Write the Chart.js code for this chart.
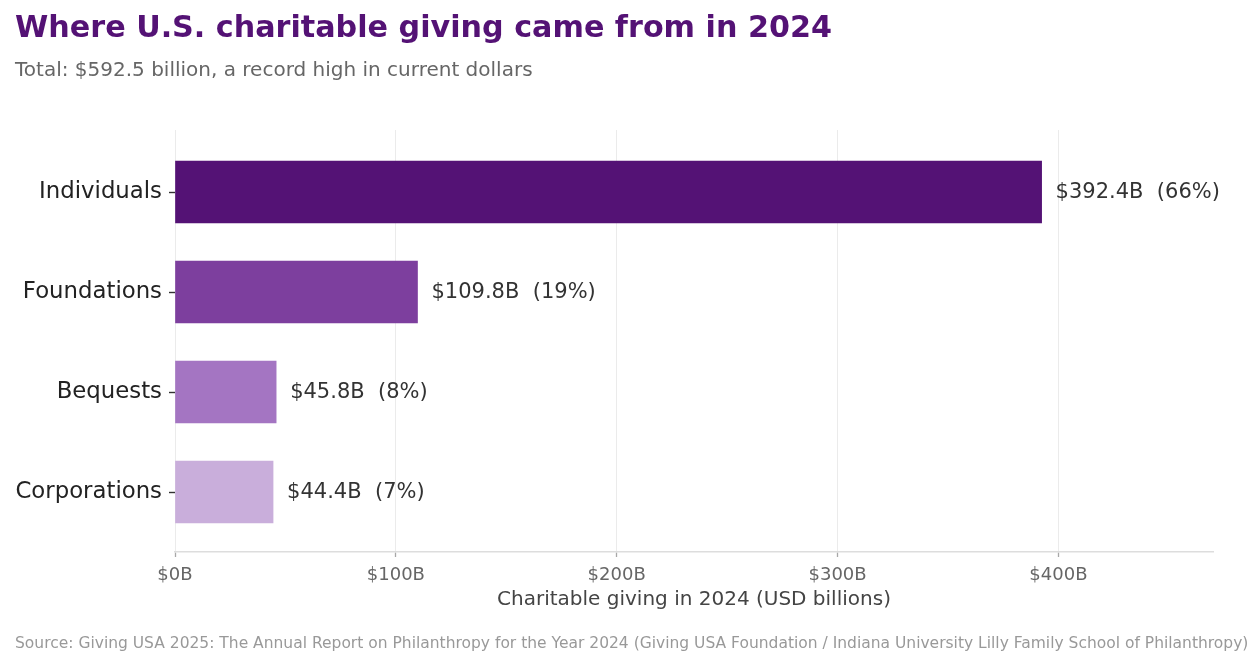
<!DOCTYPE html>
<html>
<head>
<meta charset="utf-8">
<title>Where U.S. charitable giving came from in 2024</title>
<script src="https://cdn.jsdelivr.net/npm/chart.js@4.4.1/dist/chart.umd.min.js"></script>
<style>
  body { margin: 0; background: #fff; }
  #wrap { width: 1255px; height: 661px; position: relative; }
</style>
</head>
<body>
<div id="wrap"><canvas id="giving-chart"></canvas></div>
<script>
// giving by source, 2024 (USD billions)
var categories = ["Individuals", "Foundations", "Bequests", "Corporations"];
var amounts = [392.4, 109.8, 45.8, 44.4];
var shares = [66, 19, 8, 7];
var xTicks = [0, 100, 200, 300, 400];

var barColors = ["#541275", "#7d3f9e", "#a475c2", "#c9aedb"];
var FONT = "'DejaVu Sans', 'Liberation Sans', sans-serif";

Chart.defaults.font.family = FONT;

// title, subtitle, source line and the value labels next to the bars
var textPlugin = {
  id: "chartText",
  afterDatasetsDraw: function(chart) {
    var ctx = chart.ctx;
    var meta = chart.getDatasetMeta(0);
    ctx.save();
    ctx.font = "21px " + FONT;
    ctx.fillStyle = "#333333";
    ctx.textAlign = "left";
    ctx.textBaseline = "middle";
    meta.data.forEach(function(bar, i) {
      var label = "$" + amounts[i].toFixed(1) + "B  (" + shares[i] + "%)";
      ctx.fillText(label, bar.x + 14, bar.y + 1);
    });
    ctx.restore();
  },
  afterDraw: function(chart) {
    var ctx = chart.ctx;
    ctx.save();
    ctx.textAlign = "left";
    ctx.textBaseline = "alphabetic";
    ctx.font = "bold 30.2px " + FONT;
    ctx.fillStyle = "#541275";
    ctx.fillText("Where U.S. charitable giving came from in 2024", 15, 37);
    ctx.font = "20px " + FONT;
    ctx.fillStyle = "#666666";
    ctx.fillText("Total: $592.5 billion, a record high in current dollars", 15, 76);
    ctx.font = "15.5px " + FONT;
    ctx.fillStyle = "#999999";
    ctx.fillText("Source: Giving USA 2025: The Annual Report on Philanthropy for the Year 2024 (Giving USA Foundation / Indiana University Lilly Family School of Philanthropy)", 15, 648);
    ctx.restore();
  }
};

var ctx = document.getElementById("giving-chart");
var givingChart = new Chart(ctx, {
  type: "bar",
  data: {
    datasets: [{
      data: amounts.map(function(v, i) { return { x: v, y: i }; }),
      backgroundColor: barColors,
      borderWidth: 0,
      barThickness: 62
    }]
  },
  options: {
    indexAxis: "y",
    responsive: true,
    maintainAspectRatio: false,
    animation: false,
    layout: {
      padding: { top: 130, right: 42, bottom: 0, left: 0 }
    },
    plugins: {
      legend: { display: false },
      tooltip: { enabled: false }
    },
    events: [],
    scales: {
      x: {
        type: "linear",
        position: "bottom",
        min: 0,
        max: 470,
        afterBuildTicks: function(scale) {
          scale.ticks = xTicks.map(function(v) { return { value: v }; });
        },
        afterFit: function(scale) {
          scale.height = 109;
        },
        ticks: {
          color: "#666666",
          font: { size: 18 },
          padding: 8,
          callback: function(v) { return "$" + v + "B"; }
        },
        grid: {
          color: "#ebebeb",
          lineWidth: 1,
          tickColor: "#a8a8a8",
          tickWidth: 1.3,
          tickLength: 5
        },
        border: { display: true, color: "#dddddd", width: 1.5 },
        title: {
          display: true,
          text: "Charitable giving in 2024 (USD billions)",
          color: "#444444",
          font: { size: 20 },
          padding: { top: 0, bottom: 49 }
        }
      },
      y: {
        type: "linear",
        position: "left",
        reverse: true,
        offset: false,
        min: -0.62,
        max: 3.6,
        afterBuildTicks: function(scale) {
          scale.ticks = categories.map(function(c, i) { return { value: i }; });
        },
        afterFit: function(scale) {
          scale.width = 175;
        },
        ticks: {
          color: "#222222",
          font: { size: 22.8 },
          padding: 7,
          callback: function(v) { return categories[v]; }
        },
        grid: {
          offset: false,
          drawOnChartArea: false,
          tickColor: "#333333",
          tickWidth: 1.4,
          tickLength: 6
        },
        border: { display: false }
      }
    }
  },
  plugins: [textPlugin]
});
</script>
</body>
</html>
